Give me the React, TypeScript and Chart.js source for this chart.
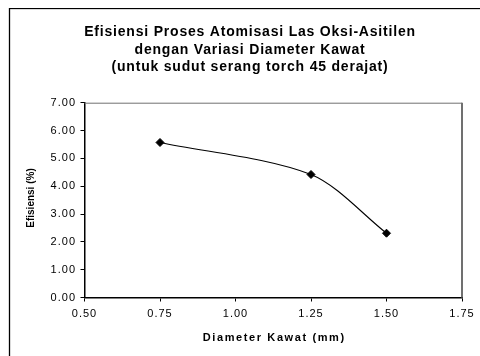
import React, { useEffect, useRef } from "react";
import { Chart, registerables } from "chart.js";

Chart.register(...registerables);

const titleLines = [
  "Efisiensi Proses Atomisasi Las Oksi-Asitilen",
  "dengan Variasi Diameter Kawat",
  "(untuk sudut serang torch 45 derajat)",
];
const xAxisTitle = "Diameter Kawat (mm)";
const yAxisTitle = "Efisiensi (%)";
const diameters = [0.75, 1.25, 1.5];
const efficiencies = [5.57, 4.42, 2.31];
const xMin = 0.5;
const xMax = 1.75;
const xStep = 0.25;
const yMin = 0;
const yMax = 7;
const yStep = 1;

const FONT = "'Liberation Sans', Arial, sans-serif";

const decorPlugin = {
  id: "decor",
  beforeDraw(chart: any) {
    const ctx = chart.ctx;
    (ctx as any).letterSpacing = "1px";
  },
  beforeDatasetsDraw(chart: any) {
    const { ctx, chartArea } = chart;
    ctx.save();
    ctx.strokeStyle = "#707070";
    ctx.lineWidth = 1;
    ctx.beginPath();
    ctx.moveTo(chartArea.left, chartArea.top + 0.5);
    ctx.lineTo(chartArea.right, chartArea.top + 0.5);
    ctx.stroke();
    ctx.lineWidth = 2;
    ctx.beginPath();
    ctx.moveTo(chartArea.right, chartArea.top);
    ctx.lineTo(chartArea.right, chartArea.bottom);
    ctx.stroke();
    ctx.restore();
  },
  afterDraw(chart: any) {
    const { ctx, chartArea } = chart;
    ctx.save();
    ctx.strokeStyle = "#000";
    ctx.lineWidth = 1.3;
    ctx.strokeRect(1.5, 0.5, 600, 600);

    ctx.fillStyle = "#000";
    ctx.textAlign = "center";
    ctx.textBaseline = "alphabetic";
    (ctx as any).letterSpacing = "0.8px";
    ctx.font = `bold 14px ${FONT}`;
    const baselines = [28, 45.5, 63];
    titleLines.forEach((line, i) => {
      ctx.fillText(line, 242, baselines[i]);
    });

    (ctx as any).letterSpacing = "1.6px";
    ctx.font = `bold 11px ${FONT}`;
    ctx.textBaseline = "middle";
    ctx.fillText(xAxisTitle, (chartArea.left + chartArea.right) / 2 + 1, 330);

    (ctx as any).letterSpacing = "0px";
    ctx.font = `bold 10px ${FONT}`;
    ctx.translate(23.7, 190);
    ctx.rotate(-Math.PI / 2);
    ctx.fillText(yAxisTitle, 0, 0);
    ctx.restore();
    (ctx as any).letterSpacing = "0px";
  },
};

export default function App() {
  const ref = useRef<HTMLCanvasElement>(null);
  useEffect(() => {
    if (!ref.current) return;
    const chart = new Chart(ref.current, {
      type: "line",
      data: {
        datasets: [
          {
            data: diameters.map((x, i) => ({ x, y: efficiencies[i] })),
            borderColor: "#000",
            borderWidth: 1.1,
            backgroundColor: "#000",
            pointStyle: "rectRot",
            pointRadius: 4,
            pointBackgroundColor: "#000",
            pointBorderColor: "#000",
            pointBorderWidth: 1,
            tension: 0.3,
            fill: false,
          },
        ],
      },
      options: {
        responsive: false,
        animation: false,
        devicePixelRatio: 1,
        layout: { padding: { top: 94.7, right: 18, bottom: 0, left: 0 } },
        plugins: {
          legend: { display: false },
          title: { display: false },
          tooltip: { enabled: false },
        },
        scales: {
          x: {
            type: "linear",
            min: xMin,
            max: xMax,
            afterFit: (s: any) => {
              s.height = 58.5;
            },
            afterBuildTicks: (s: any) => {
              const t = [];
              for (let v = xMin; v <= xMax + 1e-9; v += xStep) t.push({ value: +v.toFixed(2) });
              s.ticks = t;
            },
            ticks: {
              color: "#000",
              font: { family: FONT, size: 11 },
              padding: 6,
              maxRotation: 0,
              autoSkip: false,
              callback: (v: any) => Number(v).toFixed(2),
            },
            grid: {
              drawOnChartArea: false,
              drawTicks: true,
              tickLength: 4,
              color: "#000",
              lineWidth: 1,
            },
            border: { color: "#000", width: 1.5 },
            title: { display: false },
          },
          y: {
            type: "linear",
            min: yMin,
            max: yMax,
            afterFit: (s: any) => {
              s.width = 76.5;
            },
            ticks: {
              stepSize: yStep,
              color: "#000",
              font: { family: FONT, size: 11 },
              padding: 4.5,
              callback: (v: any) => Number(v).toFixed(2),
            },
            grid: {
              drawOnChartArea: false,
              drawTicks: true,
              tickLength: 4,
              color: "#000",
              lineWidth: 1,
            },
            border: { color: "#000", width: 1.5 },
            title: { display: false },
          },
        },
      },
      plugins: [decorPlugin],
    } as any);
    return () => chart.destroy();
  }, []);
  return (
    <div style={{ position: "fixed", left: 8, top: 8, width: 472, height: 348, background: "#fff" }}>
      <canvas ref={ref} width={472} height={348} style={{ display: "block" }} />
    </div>
  );
}
